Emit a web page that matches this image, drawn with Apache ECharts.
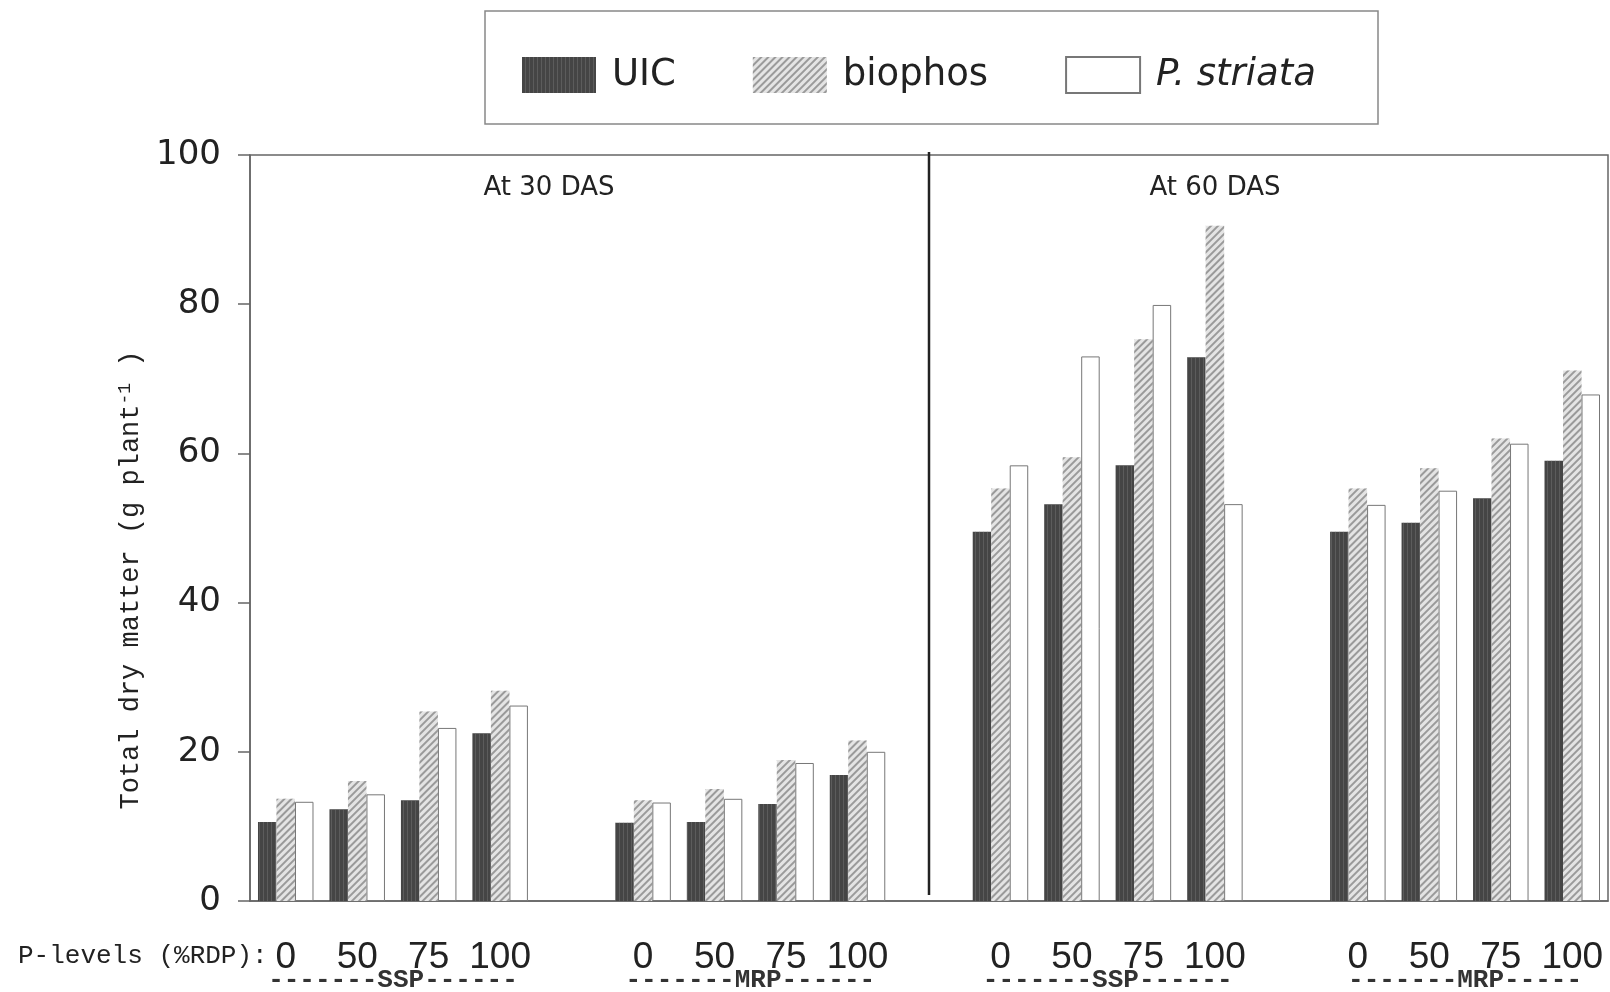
<!DOCTYPE html>
<html>
<head>
<meta charset="utf-8">
<script src="https://cdn.jsdelivr.net/npm/echarts@6/dist/echarts.min.js"></script>
<style>
html,body{margin:0;padding:0;background:#fff;}
#chart{width:1610px;height:992px;}
</style>
</head>
<body>
<div id="chart"></div>
<script>
// ---- data ----
const pLevelLabels = ['0', '50', '75', '100'];
const groupKeys = ['30 DAS SSP', '30 DAS MRP', '60 DAS SSP', '60 DAS MRP'];
const groupBands = ['-------SSP------', '-------MRP------', '-------SSP------', '-------MRP-----'];
const stageLabels = ['At 30 DAS', 'At 60 DAS'];
const seriesNames = ['UIC', 'biophos', 'P. striata'];
const yTicks = [0, 20, 40, 60, 80, 100];
const uicValues     = [10.6, 12.3, 13.5, 22.5,  10.5, 10.6, 13.0, 16.9,  49.5, 53.2, 58.4, 72.9,  49.5, 50.7, 54.0, 59.0];
const biophosValues = [13.7, 16.1, 25.4, 28.2,  13.5, 15.0, 18.9, 21.5,  55.3, 59.5, 75.3, 90.5,  55.3, 58.0, 62.0, 71.1];
const striataValues = [13.3, 14.3, 23.2, 26.2,  13.2, 13.7, 18.5, 20.0,  58.4, 73.0, 79.9, 53.2,  53.1, 55.0, 61.3, 67.9];

// ---- build category slots (with an empty slot between groups) ----
const categories = [];
const labelOf = {};
const groupSlots = [];
groupKeys.forEach((g, gi) => {
  if (gi > 0) { const gap = 'gap' + gi; categories.push(gap); labelOf[gap] = ''; }
  const slots = [];
  pLevelLabels.forEach(l => {
    const key = g + ' ' + l;
    slots.push(categories.length);
    categories.push(key);
    labelOf[key] = l;
  });
  groupSlots.push(slots);
});
function expand(vals) {
  const out = categories.map(() => null);
  groupSlots.forEach((slots, gi) => slots.forEach((s, li) => { out[s] = vals[gi * 4 + li]; }));
  return out;
}

const chart = echarts.init(document.getElementById('chart'), null, {renderer: 'canvas'});
const axisColor = '#666';
const option = {
  animation: false,
  backgroundColor: '#ffffff',
  grid: {left: 250, right: 2, top: 155, bottom: 91, show: true, borderColor: axisColor, borderWidth: 1.5},
  legend: {
    left: 517, top: 51,
    itemWidth: 74, itemHeight: 36, itemGap: 77,
    icon: 'rect',
    data: seriesNames.map((n, i) => ({name: n, icon: 'rect', textStyle: i === 2 ? {fontStyle: 'italic'} : {}})),
    textStyle: {fontFamily: 'DejaVu Sans', fontSize: 37, color: '#222', padding: [0, 0, 0, 11]}
  },
  xAxis: {
    type: 'category', data: categories,
    axisLine: {show: true, lineStyle: {color: axisColor, width: 1.5}},
    axisTick: {show: false},
    axisLabel: {interval: 0, formatter: v => labelOf[v], fontFamily: '"Liberation Sans Narrow", "Liberation Sans", sans-serif', fontSize: 37, color: '#222', margin: 38}
  },
  yAxis: {
    type: 'value', min: yTicks[0], max: yTicks[yTicks.length - 1], interval: 20,
    axisLine: {show: true, lineStyle: {color: axisColor, width: 1.5}},
    axisTick: {show: true, length: 12, lineStyle: {color: axisColor, width: 1.5}},
    splitLine: {show: false},
    axisLabel: {fontFamily: 'DejaVu Sans', fontSize: 34, color: '#222', margin: 29}
  },
  series: [
    {
      name: seriesNames[0], type: 'bar', data: expand(uicValues), barWidth: 18.5, barGap: '0%',
      itemStyle: {color: '#454545', decal: {symbol: 'rect', dashArrayX: [1, 0], dashArrayY: [1, 3], rotation: Math.PI / 2, color: 'rgba(120,120,120,0.45)'}}
    },
    {
      name: seriesNames[1], type: 'bar', data: expand(biophosValues), barWidth: 18.5, barGap: '0%',
      itemStyle: {color: '#e4e4e4', decal: {symbol: 'rect', dashArrayX: [1, 0], dashArrayY: [2, 3], rotation: -Math.PI / 4, color: '#9a9a9a'}}
    },
    {
      name: seriesNames[2], type: 'bar', data: expand(striataValues), barWidth: 18.5, barGap: '0%',
      itemStyle: {color: '#ffffff', borderColor: '#777', borderWidth: 1}
    }
  ]
};
chart.setOption(option);

// ---- annotations ----
const px = i => chart.convertToPixel({xAxisIndex: 0}, i);
const zeroY = chart.convertToPixel({yAxisIndex: 0}, 0);
const topY = chart.convertToPixel({yAxisIndex: 0}, 100);
const graphics = [
  {type: 'rect', shape: {x: 485, y: 11, width: 893, height: 113}, style: {fill: null, stroke: '#888', lineWidth: 1.5}, z: -1},
  {type: 'line', shape: {x1: 929, y1: topY - 3, x2: 929, y2: zeroY - 6}, style: {stroke: '#222', lineWidth: 2.5}, z: 10},
  {type: 'text', x: 549, y: 188, style: {text: stageLabels[0], font: '26px "DejaVu Sans"', fill: '#222', align: 'center', verticalAlign: 'middle'}},
  {type: 'text', x: 1215, y: 188, style: {text: stageLabels[1], font: '26px "DejaVu Sans"', fill: '#222', align: 'center', verticalAlign: 'middle'}},
  {type: 'text', x: 18, y: zeroY + 55, style: {text: 'P-levels (%RDP):', font: '26px "Liberation Mono"', fill: '#222', align: 'left', verticalAlign: 'middle'}},
  {
    type: 'text', x: 131, y: 580, rotation: Math.PI / 2,
    style: {
      text: '{a|Total dry matter (g plant}{s|-1}{a| )}',
      align: 'center', verticalAlign: 'middle', fill: '#222',
      rich: {
        a: {fontFamily: 'Liberation Mono', fontSize: 27, fill: '#222', lineHeight: 30},
        s: {fontFamily: 'Liberation Mono', fontSize: 18, fill: '#222', verticalAlign: 'top', lineHeight: 30, padding: [0, 0, 12, 0]}
      }
    }
  }
];
groupSlots.forEach((slots, gi) => {
  const cx = (px(slots[1]) + px(slots[2])) / 2;
  graphics.push({type: 'text', x: cx, y: zeroY + 79, style: {text: groupBands[gi], font: 'bold 26px "Liberation Mono"', fill: '#333', align: 'center', verticalAlign: 'middle'}});
});
chart.setOption({graphic: graphics});
</script>
</body>
</html>
